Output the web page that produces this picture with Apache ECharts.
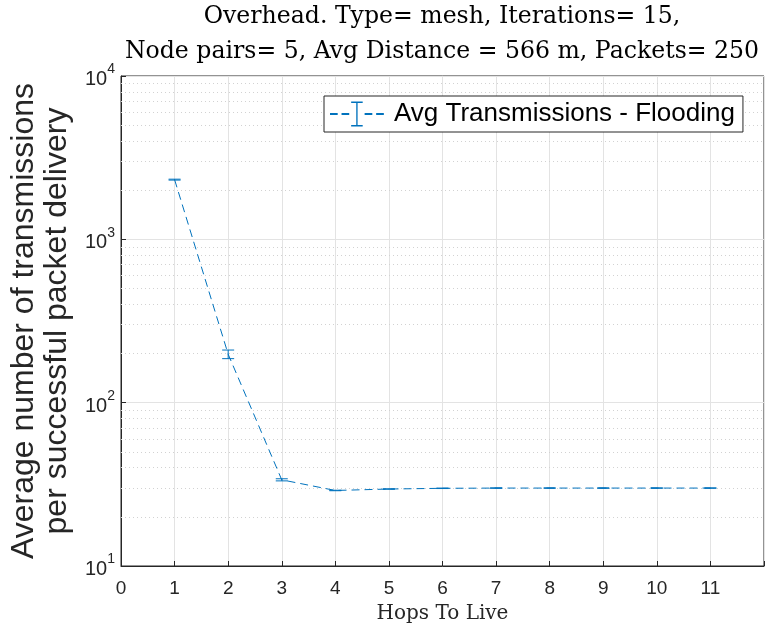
<!DOCTYPE html>
<html><head><meta charset="utf-8">
<script src="https://cdn.jsdelivr.net/npm/echarts@6/dist/echarts.min.js"></script>
<style>html,body{margin:0;padding:0;background:#fff}#c{width:777px;height:634px}</style>
</head><body><div id="c"></div>
<script>
const hops = [1, 2, 3, 4, 5, 6, 7, 8, 9, 10, 11];
const avgTx = [2320, 198, 33.7, 29.0, 29.6, 29.9, 30.0, 30.0, 30.0, 30.0, 30.0];
const txErr = [15, 12, 0.5, 0.1, 0.1, 0.1, 0.1, 0.1, 0.1, 0.1, 0.1];
const xTicks = [0, 1, 2, 3, 4, 5, 6, 7, 8, 9, 10, 11];
const yTickExps = [1, 2, 3, 4];
const seriesName = 'Avg Transmissions - Flooding';
const titleLines = ['Overhead. Type= mesh, Iterations= 15,', 'Node pairs= 5, Avg Distance = 566 m, Packets= 250'];

const blue = '#0072BD';
const axisColor = '#262626';
const minorVals = [];
for (let e = 1; e < 4; e++) for (let k = 2; k <= 9; k++) minorVals.push(k * Math.pow(10, e));

const chart = echarts.init(document.getElementById('c'), null, {renderer: 'canvas'});
chart.setOption({
  animation: false,
  backgroundColor: '#fff',
  title: {
    text: titleLines.join('\n'),
    left: 442, top: -1, textAlign: 'center', padding: 0,
    textStyle: {fontFamily: 'DejaVu Serif', fontSize: 23.6, fontWeight: 'normal', color: '#000', lineHeight: 35}
  },
  grid: {left: 121, top: 76, right: 13, bottom: 68, show: true, borderColor: axisColor, borderWidth: 1, backgroundColor: 'transparent'},
  legend: {
    left: 324, top: 96, width: 430,
    data: [{name: seriesName, icon: 'path://M0,12H8V14H0Z M12,12H20V14H12Z M22,0H34V1.5H22Z M27.3,0H28.7V26H27.3Z M22,24.5H34V26H22Z M36,12H44V14H36Z M48,12H56V14H48Z'}],
    itemWidth: 56, itemHeight: 25, itemGap: 0,
    padding: [5, 8, 5, 6],
    backgroundColor: '#fff', borderColor: axisColor, borderWidth: 1,
    textStyle: {fontFamily: 'Liberation Sans', fontSize: 26, color: '#000', padding: [0, 0, 0, 4]}
  },
  xAxis: {
    type: 'value', min: 0, max: 12, interval: 1,
    name: 'Hops To Live', nameLocation: 'middle', nameGap: 38,
    nameTextStyle: {fontFamily: 'DejaVu Serif', fontSize: 20, color: axisColor},
    axisLine: {show: true, lineStyle: {color: axisColor}},
    axisTick: {show: true, inside: true, length: 5, lineStyle: {color: axisColor}},
    axisLabel: {fontFamily: 'Liberation Sans', fontSize: 19, color: axisColor, margin: 13,
      formatter: v => xTicks.indexOf(v) >= 0 ? String(v) : ''},
    splitLine: {show: true, lineStyle: {color: '#e3e3e3', width: 1}}
  },
  yAxis: {
    type: 'log', logBase: 10, min: 10, max: 10000,
    name: 'Average number of transmissions\nper successful packet delivery',
    nameLocation: 'middle', nameGap: 35, nameRotate: 90,
    nameTextStyle: {fontFamily: 'Liberation Sans', fontSize: 32, color: axisColor, lineHeight: 33},
    axisLine: {show: true, lineStyle: {color: axisColor}},
    axisTick: {show: true, inside: true, length: 5, lineStyle: {color: axisColor}},
    axisLabel: {
      margin: 6,
      formatter: v => { const e = Math.round(Math.log10(v)); return yTickExps.indexOf(e) >= 0 ? '{b|10}{s|' + e + '}' : ''; },
      rich: {
        b: {fontFamily: 'Liberation Sans', fontSize: 20, color: axisColor, verticalAlign: 'bottom'},
        s: {fontFamily: 'Liberation Sans', fontSize: 14, color: axisColor, verticalAlign: 'top', padding: [0, 0, 13, 0]}
      }
    },
    splitLine: {show: true, lineStyle: {color: '#e3e3e3', width: 1}}
  },
  series: [
    {
      name: seriesName, type: 'line',
      data: hops.map((h, i) => [h, avgTx[i]]),
      showSymbol: false, symbol: 'none',
      lineStyle: {color: blue, width: 1, type: [8, 5]},
      itemStyle: {color: blue},
      z: 3,
      markLine: {
        silent: true, symbol: 'none', label: {show: false},
        lineStyle: {color: '#d2d2d2', type: [1, 3], width: 1},
        data: minorVals.map(v => ({yAxis: v})),
        z: 1
      }
    },
    {
      name: seriesName + ' err', type: 'custom',
      data: hops.map((h, i) => [h, avgTx[i] - txErr[i], avgTx[i] + txErr[i]]),
      renderItem: (params, api) => {
        const lo = api.coord([api.value(0), api.value(1)]);
        const hi = api.coord([api.value(0), api.value(2)]);
        const hw = 6;
        const st = {stroke: blue, lineWidth: 1};
        return {type: 'group', children: [
          {type: 'line', shape: {x1: lo[0], y1: lo[1], x2: hi[0], y2: hi[1]}, style: st},
          {type: 'line', shape: {x1: lo[0] - hw, y1: lo[1], x2: lo[0] + hw, y2: lo[1]}, style: st},
          {type: 'line', shape: {x1: hi[0] - hw, y1: hi[1], x2: hi[0] + hw, y2: hi[1]}, style: st}
        ]};
      },
      z: 4
    }
  ]
});
</script></body></html>
